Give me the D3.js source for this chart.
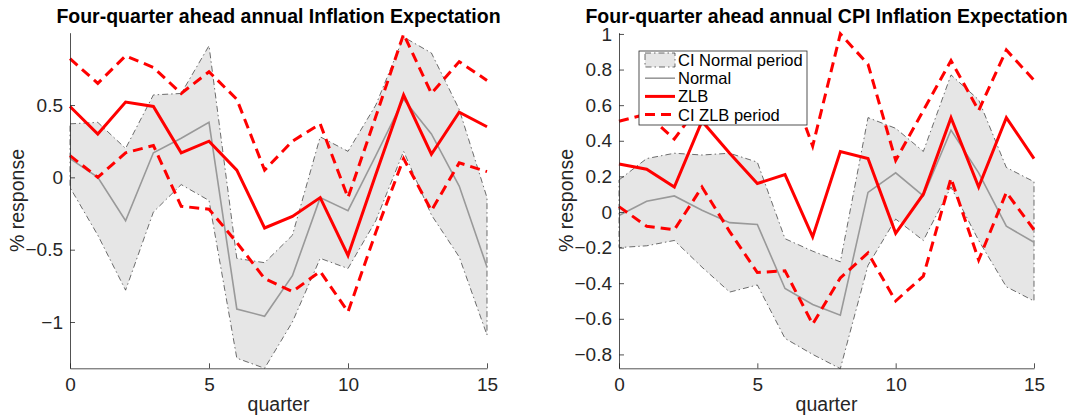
<!DOCTYPE html>
<html>
<head>
<meta charset="utf-8">
<script src="https://cdn.jsdelivr.net/npm/d3@7/dist/d3.min.js"></script>
<style>
  body { margin: 0; background: #fff; }
  svg { display: block; font-family: "Liberation Sans", Arial, Helvetica, sans-serif; }
</style>
</head>
<body>
<svg id="chart" width="1073" height="419"></svg>
<script>
// quarters after the shock
var quarters = d3.range(0, 16);

// left panel: four-quarter ahead annual inflation expectation
var leftNormal   = [0.13, 0.00, -0.30, 0.17, 0.27, 0.38, -0.91, -0.96, -0.68, -0.14, -0.23, 0.15, 0.54, 0.30, -0.06, -0.62];
var leftNormalUp = [0.37, 0.38, 0.20, 0.57, 0.58, 0.91, -0.56, -0.59, -0.40, 0.28, 0.18, 0.50, 0.97, 0.86, 0.47, -0.14];
var leftNormalLo = [-0.07, -0.40, -0.78, -0.24, -0.05, -0.16, -1.25, -1.32, -1.00, -0.56, -0.63, -0.30, 0.18, -0.26, -0.55, -1.09];
var leftZlb      = [0.49, 0.30, 0.52, 0.49, 0.17, 0.25, 0.05, -0.35, -0.27, -0.14, -0.54, 0.02, 0.57, 0.16, 0.45, 0.35];
var leftZlbUp    = [0.82, 0.65, 0.84, 0.76, 0.58, 0.73, 0.54, 0.05, 0.25, 0.37, -0.14, 0.42, 0.99, 0.58, 0.80, 0.67];
var leftZlbLo    = [0.15, 0.00, 0.17, 0.22, -0.20, -0.22, -0.45, -0.70, -0.79, -0.65, -0.93, -0.38, 0.13, -0.23, 0.10, 0.04];
var leftYTicks   = [-1, -0.5, 0, 0.5];

// right panel: four-quarter ahead annual CPI inflation expectation
var rightNormal   = [-0.02, 0.06, 0.09, 0.01, -0.06, -0.07, -0.43, -0.52, -0.58, 0.11, 0.22, 0.09, 0.46, 0.22, -0.08, -0.17];
var rightNormalUp = [0.18, 0.30, 0.33, 0.32, 0.33, 0.28, -0.15, -0.22, -0.28, 0.53, 0.47, 0.34, 0.77, 0.63, 0.25, 0.17];
var rightNormalLo = [-0.20, -0.19, -0.16, -0.31, -0.45, -0.41, -0.71, -0.80, -0.88, -0.30, -0.04, -0.16, 0.14, -0.16, -0.42, -0.50];
var rightZlb      = [0.27, 0.24, 0.14, 0.51, 0.33, 0.16, 0.21, -0.14, 0.34, 0.30, -0.12, 0.10, 0.53, 0.14, 0.53, 0.30];
var rightZlbUp    = [0.51, 0.55, 0.41, 0.62, 0.60, 0.62, 0.80, 0.37, 1.00, 0.83, 0.29, 0.57, 0.85, 0.57, 0.91, 0.74];
var rightZlbLo    = [0.03, -0.08, -0.10, 0.14, -0.11, -0.34, -0.33, -0.63, -0.37, -0.23, -0.50, -0.36, 0.19, -0.27, 0.11, -0.10];
var rightYTicks   = [-0.8, -0.6, -0.4, -0.2, 0, 0.2, 0.4, 0.6, 0.8, 1];

var xTicks = [0, 5, 10, 15];
var legendLabels = ['CI Normal period', 'Normal', 'ZLB', 'CI ZLB period'];

var svg = d3.select('#chart');
var axisColor = '#262626';

function drawPanel(cfg) {
    var x = d3.scaleLinear().domain([0, 15]).range([cfg.left, cfg.right]);
    var y = d3.scaleLinear().domain(cfg.yDomain).range([cfg.bottom, cfg.top]);
    var g = svg.append('g');

    var line = d3.line()
        .x(function(d, i) { return x(quarters[i]); })
        .y(function(d) { return y(d); });

    // shaded confidence band of the normal period
    var band = cfg.normalUp.map(function(v, i) { return [x(quarters[i]), y(v)]; })
        .concat(cfg.normalLo.map(function(v, i) { return [x(quarters[i]), y(v)]; }).reverse());

    g.append('path')
        .attr('d', 'M' + band.join('L') + 'Z')
        .attr('fill', '#e6e6e6')
        .attr('stroke', '#111')
        .attr('stroke-width', 0.6)
        .attr('stroke-dasharray', '6,3,1.5,3');

    g.append('path')
        .datum(cfg.normal)
        .attr('d', line)
        .attr('fill', 'none')
        .attr('stroke', '#999')
        .attr('stroke-width', 1.6);

    g.append('path')
        .datum(cfg.zlb)
        .attr('d', line)
        .attr('fill', 'none')
        .attr('stroke', '#ff0000')
        .attr('stroke-width', 3);

    [cfg.zlbUp, cfg.zlbLo].forEach(function(s) {
        g.append('path')
            .datum(s)
            .attr('d', line)
            .attr('fill', 'none')
            .attr('stroke', '#ff0000')
            .attr('stroke-width', 3)
            .attr('stroke-dasharray', '10,6');
    });

    // axes, ticks pointing inward
    var xAxis = g.append('g')
        .attr('transform', 'translate(0,' + cfg.bottom + ')')
        .call(d3.axisBottom(x).tickValues(xTicks).tickSize(-5).tickPadding(9).tickSizeOuter(0));
    var yAxis = g.append('g')
        .attr('transform', 'translate(' + cfg.left + ',0)')
        .call(d3.axisLeft(y).tickValues(cfg.yTicks).tickSize(-5).tickPadding(7).tickSizeOuter(0)
            .tickFormat(function(d) { return d3.format('')(+d.toFixed(2)); }));

    [xAxis, yAxis].forEach(function(a) {
        a.select('.domain').attr('stroke', axisColor).attr('stroke-width', 0.8);
        a.selectAll('.tick line').attr('stroke', axisColor).attr('stroke-width', 0.8);
        a.selectAll('.tick text').attr('fill', axisColor).style('font-size', '19px');
    });

    g.append('text')
        .attr('x', (cfg.left + cfg.right) / 2)
        .attr('y', 23)
        .attr('text-anchor', 'middle')
        .style('font-size', '19.5px')
        .style('font-weight', 'bold')
        .attr('fill', '#000')
        .text(cfg.title);

    g.append('text')
        .attr('x', (cfg.left + cfg.right) / 2)
        .attr('y', 411)
        .attr('text-anchor', 'middle')
        .style('font-size', '19.5px')
        .attr('fill', axisColor)
        .text('quarter');

    g.append('text')
        .attr('transform', 'translate(' + cfg.yLabelX + ',' + ((cfg.top + cfg.bottom) / 2) + ') rotate(-90)')
        .attr('text-anchor', 'middle')
        .style('font-size', '19.5px')
        .attr('fill', axisColor)
        .text('% response');

    return { x: x, y: y };
}

drawPanel({
    left: 70, right: 487, top: 32.7, bottom: 368.3,
    yDomain: [-1.32, 1.0], yTicks: leftYTicks, yLabelX: 23.5,
    title: 'Four-quarter ahead annual Inflation Expectation',
    normal: leftNormal, normalUp: leftNormalUp, normalLo: leftNormalLo,
    zlb: leftZlb, zlbUp: leftZlbUp, zlbLo: leftZlbLo
});

drawPanel({
    left: 619, right: 1034, top: 32.7, bottom: 368.3,
    yDomain: [-0.878, 1.007], yTicks: rightYTicks, yLabelX: 573,
    title: 'Four-quarter ahead annual CPI Inflation Expectation',
    normal: rightNormal, normalUp: rightNormalUp, normalLo: rightNormalLo,
    zlb: rightZlb, zlbUp: rightZlbUp, zlbLo: rightZlbLo
});

// legend in the right panel
var lg = svg.append('g').attr('transform', 'translate(639,51)');
lg.append('rect')
    .attr('width', 168).attr('height', 74)
    .attr('fill', '#fff')
    .attr('stroke', '#262626')
    .attr('stroke-width', 0.8);

var rows = lg.selectAll('g.row')
    .data(legendLabels)
    .enter().append('g')
    .attr('class', 'row')
    .attr('transform', function(d, i) { return 'translate(0,' + (9 + i * 18.2) + ')'; });

rows.each(function(d, i) {
    var r = d3.select(this);
    if (i === 0) {
        r.append('rect')
            .attr('x', 6).attr('y', -7).attr('width', 30).attr('height', 14)
            .attr('fill', '#e6e6e6').attr('stroke', '#111').attr('stroke-width', 0.6)
            .attr('stroke-dasharray', '6,3,1.5,3');
    } else {
        r.append('line')
            .attr('x1', 6).attr('x2', 36)
            .attr('stroke', i === 1 ? '#999' : '#ff0000')
            .attr('stroke-width', i === 1 ? 1.6 : 3)
            .attr('stroke-dasharray', i === 3 ? '10,6' : null);
    }
    r.append('text')
        .attr('x', 39).attr('y', 6)
        .style('font-size', '16.5px')
        .attr('fill', '#000')
        .text(d);
});
</script>
</body>
</html>
